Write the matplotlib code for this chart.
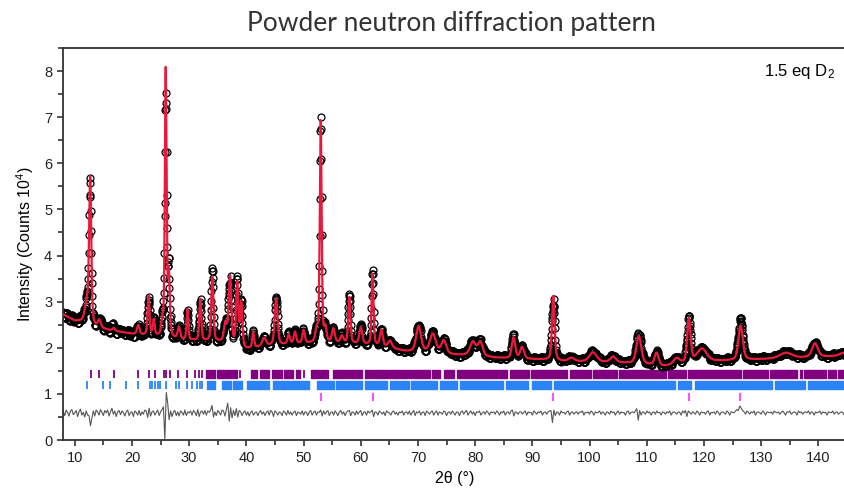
import numpy as np
import matplotlib
matplotlib.use("Agg")
import matplotlib.pyplot as plt

plt.rcParams['font.family'] = ['Liberation Sans', 'DejaVu Sans']
plt.rcParams['mathtext.default'] = 'regular'

# ---------------- data ----------------
# background of the refined profile (2theta, intensity in 10^4 counts)
bg_x = [8, 10, 11.5, 13.5, 16, 20, 24, 28, 32, 36, 40, 44, 48, 52, 56, 60, 64, 68,
        72, 76, 80, 84, 88, 92, 96, 100, 104, 108, 113, 116, 120, 124, 128, 132,
        136, 140, 145]
bg_y = [2.72, 2.58, 2.56, 2.45, 2.38, 2.30, 2.25, 2.18, 2.15, 2.12, 1.97, 2.04, 2.08,
        2.10, 2.10, 2.08, 2.02, 1.92, 1.90, 1.85, 1.82, 1.78, 1.76, 1.74, 1.70, 1.70,
        1.68, 1.66, 1.60, 1.65, 1.70, 1.72, 1.74, 1.76, 1.78, 1.80, 1.83]

# Bragg peaks: position (deg), height above background, FWHM (deg)
peak_pos = [12.1, 12.7, 14.3, 16.8, 21.1, 22.9, 23.8, 25.3, 25.9, 26.45, 28.2, 29.7,
            31.95, 34.05, 36.35, 37.15, 38.4, 39.1, 41.2, 43.1, 45.2, 47.4, 48.5,
            50.0, 52.3, 53.0, 53.8, 55.2, 56.7, 58.0, 60.0, 62.05, 63.6, 65.1, 70.1,
            72.6, 74.5, 79.6, 80.9, 86.7, 88.2, 93.65, 96.8, 100.6, 104.1, 108.6,
            111.7, 115.2, 117.35, 119.6, 126.4, 134.3, 139.4, 144.3]
peak_h = [0.40, 3.13, 0.16, 0.06, 0.20, 0.85, 0.33, 0.30, 5.79, 1.30, 0.25, 0.65,
          0.90, 1.40, 0.40, 1.45, 1.35, 0.95, 0.33, 0.18, 1.00, 0.20, 0.25,
          0.28, 0.25, 4.80, 0.30, 0.30, 0.15, 1.00, 0.35, 1.55, 0.35, 0.15, 0.55,
          0.40, 0.28, 0.30, 0.30, 0.45, 0.25, 1.40, 0.08, 0.20, 0.12, 0.60,
          0.27, 0.13, 0.95, 0.28, 0.75, 0.12, 0.30, 0.06]
peak_w = [0.80, 0.45, 0.60, 0.50, 0.50, 0.40, 0.40, 0.40, 0.35, 0.40, 0.50, 0.35,
          0.40, 0.45, 0.60, 0.55, 0.45, 0.45, 0.40, 0.80, 0.60, 0.50, 0.50,
          0.50, 0.60, 0.38, 0.50, 0.60, 0.60, 0.45, 0.60, 0.40, 0.60, 0.80, 1.00,
          1.20, 1.00, 1.20, 1.00, 0.70, 0.80, 0.55, 1.20, 1.50, 1.20, 1.00,
          0.80, 1.20, 0.70, 2.00, 0.90, 2.50, 1.20, 1.50]

# observed - calculated residual, one value per 0.25 deg from 8 to 145 (units of 0.01)
residual = [
    4, -5, 7, 2, -6, 5, 8, -3, 1, 6, -7, 3, 9, -4, 2, -8, 5, -4, -5, -27,
    -10, 5, -6, 7, 3, -4, 8, 2, -5, 6, 1, 7, -6, 3, 11, -2, 5, -7, 3, 6,
    -3, 5, 2, -6, 3, 7, -5, 1, 3, -7, 5, 2, -4, 6, -5, 3, -2, 7, 5, -9,
    11, -6, 3, 5, -4, 2, 7, -5, 3, 8, 14, -57, 45, 22, -14, 5, -7, 3, 6, -5,
    3, -6, 5, 2, -4, 7, -5, 3, 1, 5, -4, 6, 2, -5, 8, -7, 3, 5, -2, 6,
    -4, 5, 2, 7, 17, -8, 3, -5, 6, 2, -4, 7, 5, -6, 8, 22, -17, 12, -10, 6,
    -5, 10, -8, 6, 3, -5, 2, 5, -4, 3, -6, 2, 5, -4, 1, 3, -5, 2, 6, -2,
    3, -5, 2, 5, -4, 6, 3, -7, 5, 2, -4, 3, 1, -5, 5, 2, -4, 6, -2, 3,
    -4, 2, 5, -5, 3, 1, -2, 5, -4, 3, 2, -5, 3, 6, -4, 2, 5, -4, 3, 2,
    7, -6, 5, -2, 3, 6, -5, 2, 3, -4, 5, 1, -5, 3, 6, -2, 3, -5, 2, 5,
    6, -5, 3, 2, -4, 5, -2, 3, 6, -5, 2, 3, -4, 5, 1, 3, 7, -7, 3, 2,
    -4, 5, 2, -2, 3, -5, 5, 2, 1, -4, 3, 5, -2, 2, -4, 3, 1, 5, -4, 2,
    3, -2, 5, -4, 2, 6, -5, 3, 1, 5, -4, 2, 3, -5, 5, 2, -2, 3, 5, -4,
    2, 5, -4, 3, 1, -2, 5, 3, -5, 2, 3, -2, 5, 1, -4, 3, 2, -5, 3, 5,
    -2, 3, 6, -4, 2, 5, -2, 3, -5, 3, 2, 5, -4, 1, 3, -2, 5, 2, -4, 3,
    1, 3, -2, 5, 2, -4, 3, 1, 5, -4, 2, 3, -2, 5, 7, -6, 3, 2, -2, 3,
    3, -2, 2, 5, -4, 3, 1, 2, -4, 5, 2, -2, 3, 1, 5, -4, 2, 3, -2, 3,
    5, 6, -20, 7, -5, 3, 2, -4, 5, 1, 2, -2, 3, 5, -4, 2, 3, -2, 2, 3,
    -2, 3, 2, 5, -4, 2, 1, 3, -2, 5, 2, -4, 3, 1, 2, 5, -2, 3, 1, -4,
    3, 2, -2, 5, 1, 3, -4, 2, 5, -2, 3, 1, 2, -4, 3, 5, -2, 2, 3, 1,
    5, 10, -15, 6, -4, 3, 2, -2, 5, 1, 3, -4, 2, 3, -2, 5, 1, 2, -4, 3,
    2, -2, 3, 1, 5, -4, 2, 3, 1, -2, 3, 2, -4, 5, 1, 6, -7, 5, 2, -2,
    3, 1, -2, 5, 2, -4, 3, 1, 2, -2, 3, 5, -4, 2, 1, 3, -2, 5, 2, -4,
    2, 3, 1, -2, 5, 2, -4, 3, 2, 1, 5, 8, 6, 16, 11, 6, 3, -2, 5, 2,
    -2, 3, 1, 5, -4, 2, 3, 1, -2, 5, 2, -4, 3, 2, 1, 3, -2, 5, 2, 1,
    3, -2, 2, 5, 1, -4, 3, 2, 5, -2, 1, 3, 2, -4, 5, 1, 3, -2, 2, 3,
    1, 5, -2, 3, 2, -4, 3, 1, 2, 5, -2, 3, 1, 2, -4, 3, 2, 1, 5, -2,
    2, 3, -2, 1, 3, 2, -4, 2, 1]
diff_offset = 0.58

# reflection markers of the three phases
purple_ticks = [12.8, 14.3, 16.8, 21.0, 22.9, 23.95, 25.6, 26.0, 26.7, 28.1, 29.7,
                31.05, 31.8, 32.2, 38.9, 50.1]
purple_bands = [(33.0, 34.6), (34.8, 36.2), (36.4, 37.3), (37.5, 38.4), (40.8, 41.85),
                (42.4, 43.9), (44.5, 46.3), (46.5, 48.2), (48.7, 49.3), (51.3, 52.8),
                (53.0, 54.3), (55.2, 57.4), (57.6, 60.2), (60.8, 62.0), (62.2, 64.6),
                (64.8, 68.1), (68.3, 72.1), (72.4, 73.9), (74.5, 76.3), (76.9, 85.6),
                (86.0, 89.4), (89.8, 96.1), (96.5, 100.2), (100.6, 104.8),
                (105.2, 113.3), (113.7, 116.8), (117.2, 126.4), (126.8, 131.1),
                (131.5, 136.3), (136.7, 137.1), (137.5, 141.3), (141.7, 143.0),
                (143.4, 145.0)]
blue_ticks = [12.2, 15.0, 16.1, 18.9, 21.0, 23.1, 23.5, 24.0, 24.5, 24.9, 26.0, 27.7,
              28.3, 29.7, 30.5, 31.4, 31.9, 32.3]
blue_bands = [(33.1, 34.55), (35.7, 37.4), (37.6, 39.2), (40.1, 41.5), (41.7, 43.9),
              (44.7, 47.6), (47.8, 50.9), (52.3, 55.4), (55.6, 60.2), (60.8, 64.6),
              (65.1, 68.5), (68.7, 73.3), (73.9, 76.8), (77.3, 84.9), (85.4, 89.3),
              (89.9, 93.2), (93.8, 115.0), (115.5, 117.8), (118.4, 131.8),
              (132.4, 137.6), (138.2, 145.0)]
magenta_ticks = [53.1, 62.1, 93.6, 117.4, 126.3]

x_ticks = [10, 20, 30, 40, 50, 60, 70, 80, 90, 100, 110, 120, 130, 140]
y_ticks = [0, 1, 2, 3, 4, 5, 6, 7, 8]

# ---------------- profile model ----------------
def profile(x):
    y = np.interp(x, bg_x, bg_y)
    for p, h, w in zip(peak_pos, peak_h, peak_w):
        d = (x - p) / w
        lor = 1.0 / (1.0 + 4.0 * d * d)
        gau = np.exp(-4.0 * np.log(2.0) * d * d)
        y = y + h * (0.4 * lor + 0.6 * gau)
    return y

res = np.array(residual) / 100.0
x_res = 8.0 + 0.25 * np.arange(len(res))
x_calc = np.arange(8.0, 145.0001, 0.02)
y_calc = profile(x_calc)
x_obs = np.arange(8.0, 145.0001, 0.05)
y_obs = profile(x_obs) + np.repeat(res, 5)[:len(x_obs)]

# ---------------- figure ----------------
fig = plt.figure(figsize=(8.44, 4.90), dpi=100)
ax = fig.add_axes([0.075, 0.102, 0.9286, 0.800])

ax.plot(x_obs, y_obs, 'o', mfc='none', mec='black', ms=5.0, mew=0.9, zorder=2)
ax.plot(x_calc, y_calc, color='#e8193c', lw=1.6, zorder=3)
ax.plot(x_res, diff_offset + res, color='#555555', lw=0.8, zorder=2)

ax.vlines(purple_ticks, 1.35, 1.52, color='#800080', lw=1.3)
ax.broken_barh([(a, b - a) for a, b in purple_bands], (1.35, 0.17), color='#800080')
ax.vlines(blue_ticks, 1.10, 1.29, color='#2a84f7', lw=1.3)
ax.broken_barh([(a, b - a) for a, b in blue_bands], (1.10, 0.19), color='#2a84f7')
ax.vlines(magenta_ticks, 0.85, 1.03, color='#ff40ff', lw=1.3)

ax.set_xlim(8, 145)
ax.set_ylim(0, 8.5)
ax.set_xticks(x_ticks)
ax.set_xticks(np.arange(10, 146, 5), minor=True)
ax.set_yticks(y_ticks)
ax.set_yticks(np.arange(0, 8.6, 0.5), minor=True)
ax.tick_params(which='both', direction='out', labelsize=10.5, colors='#222222', width=1.1)
ax.tick_params(which='major', length=4.5)
ax.tick_params(which='minor', length=3.5)
for s in ax.spines.values():
    s.set_linewidth(1.3)
    s.set_color('#333333')

ax.set_xlabel('2θ (°)', fontsize=11.5, labelpad=4)
ax.set_ylabel('Intensity (Counts 10$^4$)', fontsize=11.5, labelpad=6)
ax.text(0.985, 0.965, '1.5 eq D$_2$', transform=ax.transAxes, ha='right', va='top',
        fontsize=12)

fig.text(0.535, 0.953, 'Powder neutron diffraction pattern', ha='center', va='center',
         fontsize=19, family=['Lato', 'DejaVu Sans'], color='#333333')

fig.savefig('out.png', dpi=100)
